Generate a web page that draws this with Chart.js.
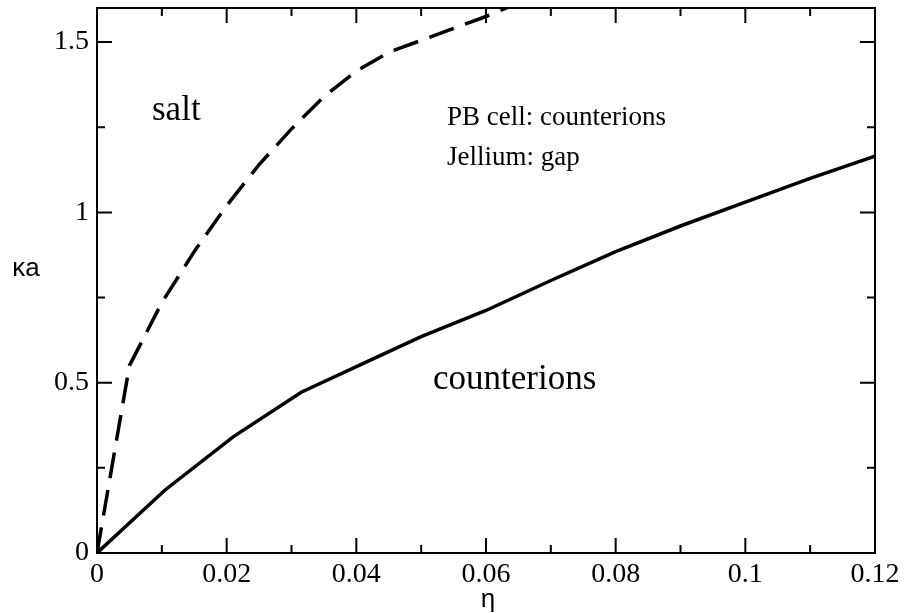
<!DOCTYPE html>
<html>
<head>
<meta charset="utf-8">
<script src="https://cdn.jsdelivr.net/npm/chart.js@4/dist/chart.umd.min.js"></script>
<style>
  html, body { margin: 0; padding: 0; background: #fff; }
  #plot { display: block; }
</style>
</head>
<body>
<canvas id="plot" width="904" height="613"></canvas>
<script>
// counterions only (solid)
const counterEta = [0, 0.0105, 0.021, 0.0315, 0.042, 0.05, 0.06, 0.07, 0.08, 0.09, 0.1, 0.11, 0.12];
const counterKa  = [0, 0.185, 0.341, 0.472, 0.565, 0.635, 0.712, 0.80, 0.885, 0.96, 1.03, 1.10, 1.165];

// salt boundary (dashed)
const saltEta = [0, 0.005, 0.01, 0.015, 0.02, 0.025, 0.03, 0.035, 0.04, 0.045, 0.05, 0.055, 0.06, 0.065];
const saltKa  = [0, 0.55, 0.735, 0.885, 1.02, 1.14, 1.245, 1.34, 1.415, 1.47, 1.505, 1.54, 1.575, 1.615];

const xMajor = [0, 0.02, 0.04, 0.06, 0.08, 0.1, 0.12];
const xMinor = [0.01, 0.03, 0.05, 0.07, 0.09, 0.11];
const xTickLabels = ["0", "0.02", "0.04", "0.06", "0.08", "0.1", "0.12"];
const yMajor = [0, 0.5, 1, 1.5];
const yMinor = [0.25, 0.75, 1.25];
const yTickLabels = ["0", "0.5", "1", "1.5"];

const serif = "'Liberation Serif', 'Times New Roman', serif";
const sans = "'Liberation Sans', Arial, sans-serif";

function pts(xs, ys) {
  return xs.map((x, i) => ({ x: x, y: ys[i] }));
}

function labelFor(majors, labels, v) {
  const i = majors.findIndex(m => Math.abs(m - v) < 1e-9);
  return i < 0 ? "" : labels[i];
}

const frame = {
  id: "frame",
  afterDatasetsDraw(chart) {
    const ctx = chart.ctx;
    const a = chart.chartArea;
    const xs = chart.scales.x;
    const ys = chart.scales.y;
    ctx.save();
    ctx.strokeStyle = "#000";
    ctx.lineWidth = 2;
    ctx.strokeRect(a.left, a.top, a.right - a.left, a.bottom - a.top);

    function xt(v, len) {
      const p = xs.getPixelForValue(v);
      ctx.beginPath();
      ctx.moveTo(p, a.bottom); ctx.lineTo(p, a.bottom - len);
      ctx.moveTo(p, a.top); ctx.lineTo(p, a.top + len);
      ctx.stroke();
    }
    function yt(v, len) {
      const p = ys.getPixelForValue(v);
      ctx.beginPath();
      ctx.moveTo(a.left, p); ctx.lineTo(a.left + len, p);
      ctx.moveTo(a.right, p); ctx.lineTo(a.right - len, p);
      ctx.stroke();
    }
    xMajor.forEach(v => xt(v, 15));
    xMinor.forEach(v => xt(v, 8));
    yMajor.forEach(v => yt(v, 15));
    yMinor.forEach(v => yt(v, 8));

    ctx.fillStyle = "#000";
    ctx.textBaseline = "alphabetic";
    ctx.textAlign = "left";
    ctx.font = "35px " + serif;
    ctx.fillText("salt", 152, 120);
    ctx.fillText("counterions", 433, 389);
    ctx.font = "27px " + serif;
    ctx.fillText("PB cell: counterions", 447, 125);
    ctx.fillText("Jellium: gap", 447, 165);

    ctx.textAlign = "center";
    ctx.font = "26px " + sans;
    ctx.fillText("κa", 26, 276);
    ctx.fillText("η", 488, 607);
    ctx.restore();
  }
};

new Chart(document.getElementById("plot"), {
  type: "line",
  data: {
    datasets: [
      {
        label: "counterions",
        data: pts(counterEta, counterKa),
        borderColor: "#000",
        borderWidth: 3.5,
        pointRadius: 0,
        tension: 0
      },
      {
        label: "salt",
        data: pts(saltEta, saltKa),
        borderColor: "#000",
        borderWidth: 3.5,
        borderDash: [26, 12],
        pointRadius: 0,
        tension: 0
      }
    ]
  },
  options: {
    responsive: false,
    devicePixelRatio: 1,
    animation: false,
    layout: { padding: { top: 8, right: 29, left: 0, bottom: 0 } },
    plugins: { legend: { display: false }, tooltip: { enabled: false } },
    scales: {
      x: {
        type: "linear",
        min: 0,
        max: 0.12,
        grid: { display: false, drawTicks: false },
        border: { display: false },
        ticks: {
          stepSize: 0.02, color: "#000", padding: 5, maxRotation: 0,
          font: { family: serif, size: 28 },
          callback: v => labelFor(xMajor, xTickLabels, v)
        },
        afterFit(s) { s.height = 60; s.paddingLeft = 0; s.paddingRight = 0; }
      },
      y: {
        min: 0,
        max: 1.6,
        grid: { display: false, drawTicks: false },
        border: { display: false },
        ticks: {
          stepSize: 0.5, includeBounds: false, color: "#000", padding: 8,
          font: { family: serif, size: 28 },
          callback: v => labelFor(yMajor, yTickLabels, v)
        },
        afterFit(s) { s.width = 97; s.paddingTop = 0; s.paddingBottom = 0; }
      }
    }
  },
  plugins: [frame]
});
</script>
</body>
</html>
